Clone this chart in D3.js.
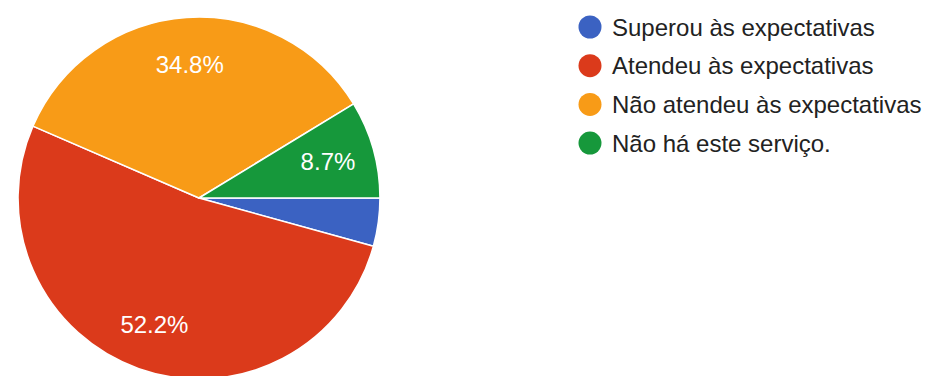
<!DOCTYPE html>
<html>
<head>
<meta charset="utf-8">
<script src="https://cdn.jsdelivr.net/npm/d3@7"></script>
<style>
  html, body { margin: 0; padding: 0; background: #fff; }
  svg { display: block; font-family: "Liberation Sans", Arial, sans-serif; }
</style>
</head>
<body>
<svg id="chart" width="929" height="376"></svg>
<script>
// Survey answers and their share of responses (%)
const categories = [
  "Superou às expectativas",
  "Atendeu às expectativas",
  "Não atendeu às expectativas",
  "Não há este serviço."
];
const shares = [4.3, 52.2, 34.8, 8.7];
const sliceColors = ["#3b62c2", "#db3a1b", "#f89b17", "#16983b"];

const svg = d3.select("#chart");
const W = 929, H = 376;

// Pie
const cx = 199, cy = 198, radius = 181;
const data = categories.map((c, i) => ({ name: c, value: shares[i], color: sliceColors[i] }));

const pie = d3.pie()
  .value(d => d.value)
  .sort(null)
  .startAngle(Math.PI / 2)
  .endAngle(Math.PI / 2 + 2 * Math.PI);

const arc = d3.arc().innerRadius(0).outerRadius(radius);
const labelArc = d3.arc().innerRadius(radius * 0.74).outerRadius(radius * 0.74);

const g = svg.append("g").attr("transform", `translate(${cx},${cy})`);
const arcs = pie(data);

g.selectAll("path.slice")
  .data(arcs)
  .join("path")
  .attr("class", "slice")
  .attr("d", arc)
  .attr("fill", d => d.data.color)
  .attr("stroke", "#ffffff")
  .attr("stroke-width", 1.6)
  .attr("stroke-linejoin", "round");

// Percentage labels (slices too thin are left unlabeled)
g.selectAll("text.pct")
  .data(arcs.filter(d => d.endAngle - d.startAngle > 0.35))
  .join("text")
  .attr("class", "pct")
  .attr("transform", d => `translate(${labelArc.centroid(d)})`)
  .attr("text-anchor", "middle")
  .attr("dy", "0.36em")
  .attr("fill", "#ffffff")
  .attr("font-size", 24)
  .text(d => d.data.value.toFixed(1) + "%");

// Legend
const legendX = 590, legendY0 = 27, legendStep = 38.7;
const lg = svg.append("g");
const rows = lg.selectAll("g.row")
  .data(data)
  .join("g")
  .attr("class", "row")
  .attr("transform", (d, i) => `translate(${legendX},${legendY0 + i * legendStep})`);

rows.append("circle")
  .attr("r", 11.5)
  .attr("fill", d => d.color);

rows.append("text")
  .attr("x", 22)
  .attr("y", 8.6)
  .attr("font-size", 24)
  .attr("fill", "#222222")
  .text(d => d.name);
</script>
</body>
</html>
